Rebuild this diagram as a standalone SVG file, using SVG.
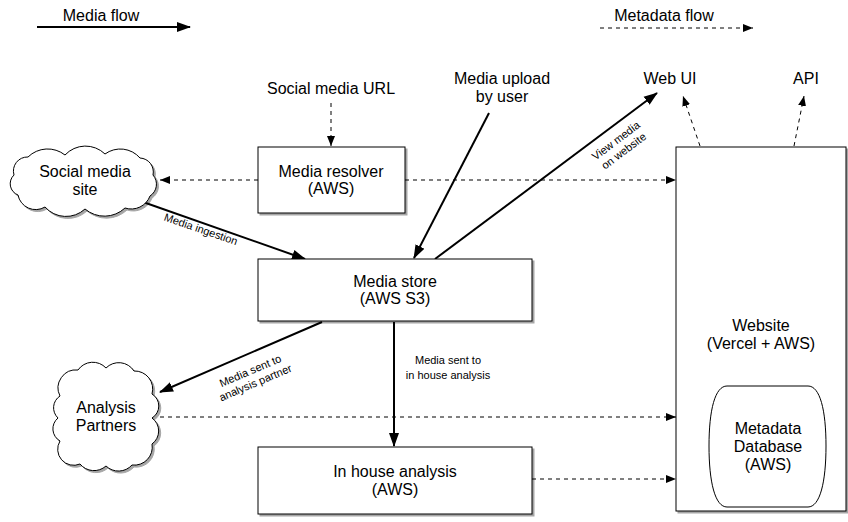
<svg xmlns="http://www.w3.org/2000/svg" width="848" height="522" viewBox="0 0 848 522">
<defs>
<style>
.t{font-family:"Liberation Sans",Arial,sans-serif;font-size:16px;fill:#000;text-anchor:middle}
.s{font-family:"Liberation Sans",Arial,sans-serif;font-size:11px;fill:#000;text-anchor:middle}
.box{fill:#fff;stroke:#000;stroke-width:1}
.solid{fill:none;stroke:#000;stroke-width:2;marker-end:url(#ah)}
.dash{fill:none;stroke:#000;stroke-width:1;stroke-dasharray:4 4;marker-end:url(#ad)}
</style>
<marker id="ah" markerUnits="userSpaceOnUse" markerWidth="14" markerHeight="12" refX="13" refY="5" orient="auto" viewBox="0 0 14 10">
<path d="M0,0 L14,5 L0,10 Z" fill="#000"/>
</marker>
<marker id="ad" markerUnits="userSpaceOnUse" markerWidth="10" markerHeight="8" refX="10" refY="4" orient="auto" viewBox="0 0 10 8">
<path d="M0,0 L10,4 L0,8 Z" fill="#000"/>
</marker>
<filter id="sh" x="-10%" y="-10%" width="120%" height="120%">
<feDropShadow dx="2" dy="2" stdDeviation="0.7" flood-color="#000" flood-opacity="0.35"/>
</filter>
</defs>
<rect width="848" height="522" fill="#fff"/>

<g id="legend">
<text class="t" x="101" y="21">Media flow</text>
<text class="t" x="664" y="21">Metadata flow</text>
</g>

<g id="connectors">
<line class="solid" x1="37" y1="27" x2="190" y2="27"/>
<line class="dash" x1="600" y1="28" x2="753" y2="28"/>
<line class="dash" x1="331" y1="103" x2="331" y2="146"/>
<line class="dash" x1="258" y1="180" x2="160" y2="180"/>
<line class="dash" x1="405" y1="180" x2="676" y2="180"/>
<line class="solid" x1="143" y1="202" x2="305" y2="259"/>
<line class="solid" x1="489" y1="113" x2="414" y2="258"/>
<line class="solid" x1="435" y1="259" x2="657" y2="93"/>
<line class="dash" x1="700" y1="146" x2="683" y2="96"/>
<line class="dash" x1="794" y1="146" x2="804" y2="96"/>
<line class="solid" x1="322" y1="322" x2="160" y2="392"/>
<line class="solid" x1="394" y1="322" x2="394" y2="446"/>
<line class="dash" x1="160" y1="417" x2="676" y2="417"/>
<line class="dash" x1="532" y1="479" x2="676" y2="479"/>
<text class="s" transform="translate(201,229) rotate(19)" y="4">Media ingestion</text>
<text class="s" transform="translate(620,146) rotate(-37)"><tspan x="0" y="-3">View media</tspan><tspan x="0" y="10">on website</tspan></text>
<text class="s" transform="translate(253,377) rotate(-23)"><tspan x="0" y="-3">Media sent to</tspan><tspan x="0" y="10">analysis partner</tspan></text>
<text class="s"><tspan x="448" y="364">Media sent to</tspan><tspan x="448" y="379">in house analysis</tspan></text>
</g>

<g id="social-url"><text class="t" x="331" y="94">Social media URL</text></g>
<g id="media-upload"><text class="t"><tspan x="502" y="84">Media upload</tspan><tspan x="502" y="102">by user</tspan></text></g>
<g id="web-ui"><text class="t" x="670" y="84">Web UI</text></g>
<g id="api"><text class="t" x="806" y="84">API</text></g>

<g id="social-site">
<path class="box" filter="url(#sh)" d="M14,175 A14,14 0 0 1 28,157 A28,28 0 0 1 65,155 A28,28 0 0 1 105,154 A26,26 0 0 1 140,158 A14,14 0 0 1 153,175 A14,14 0 0 1 150,196 A20,20 0 0 1 125,208 A30,30 0 0 1 85,209 A28,28 0 0 1 45,207 A18,18 0 0 1 18,195 A12,12 0 0 1 14,175 Z"/>
<text class="t"><tspan x="85" y="177">Social media</tspan><tspan x="85" y="195">site</tspan></text>
</g>

<g id="media-resolver">
<rect class="box" filter="url(#sh)" x="258" y="147" width="147" height="66"/>
<text class="t"><tspan x="331" y="177">Media resolver</tspan><tspan x="331" y="194">(AWS)</tspan></text>
</g>

<g id="media-store">
<rect class="box" filter="url(#sh)" x="258" y="259" width="274" height="62"/>
<text class="t"><tspan x="395" y="287">Media store</tspan><tspan x="395" y="304">(AWS S3)</tspan></text>
</g>

<g id="analysis-partners">
<path class="box" filter="url(#sh)" d="M60,396 A18,18 0 0 1 78,370 A18,18 0 0 1 106,368 A18,18 0 0 1 134,371 A18,18 0 0 1 152,394 A14,14 0 0 1 152,418 A16,16 0 0 1 152,444 A18,18 0 0 1 132,465 A18,18 0 0 1 106,466 A18,18 0 0 1 80,464 A16,16 0 0 1 60,441 A14,14 0 0 1 58,418 A14,14 0 0 1 60,396 Z"/>
<text class="t"><tspan x="106" y="413">Analysis</tspan><tspan x="106" y="431">Partners</tspan></text>
</g>

<g id="in-house">
<rect class="box" filter="url(#sh)" x="258" y="447" width="274" height="67"/>
<text class="t"><tspan x="395" y="477">In house analysis</tspan><tspan x="395" y="495">(AWS)</tspan></text>
</g>

<g id="website">
<rect class="box" filter="url(#sh)" x="676" y="147" width="170" height="364"/>
<text class="t"><tspan x="761" y="331">Website</tspan><tspan x="761" y="349">(Vercel + AWS)</tspan></text>
</g>

<g id="metadata-db">
<path class="box" d="M727,386 L808,386 C820,386 826,410 826,446 C826,482 820,507 808,507 L727,507 C715,507 709,482 709,446 C709,410 715,386 727,386 Z"/>
<text class="t"><tspan x="768" y="434">Metadata</tspan><tspan x="768" y="452">Database</tspan><tspan x="768" y="470">(AWS)</tspan></text>
</g>
</svg>
